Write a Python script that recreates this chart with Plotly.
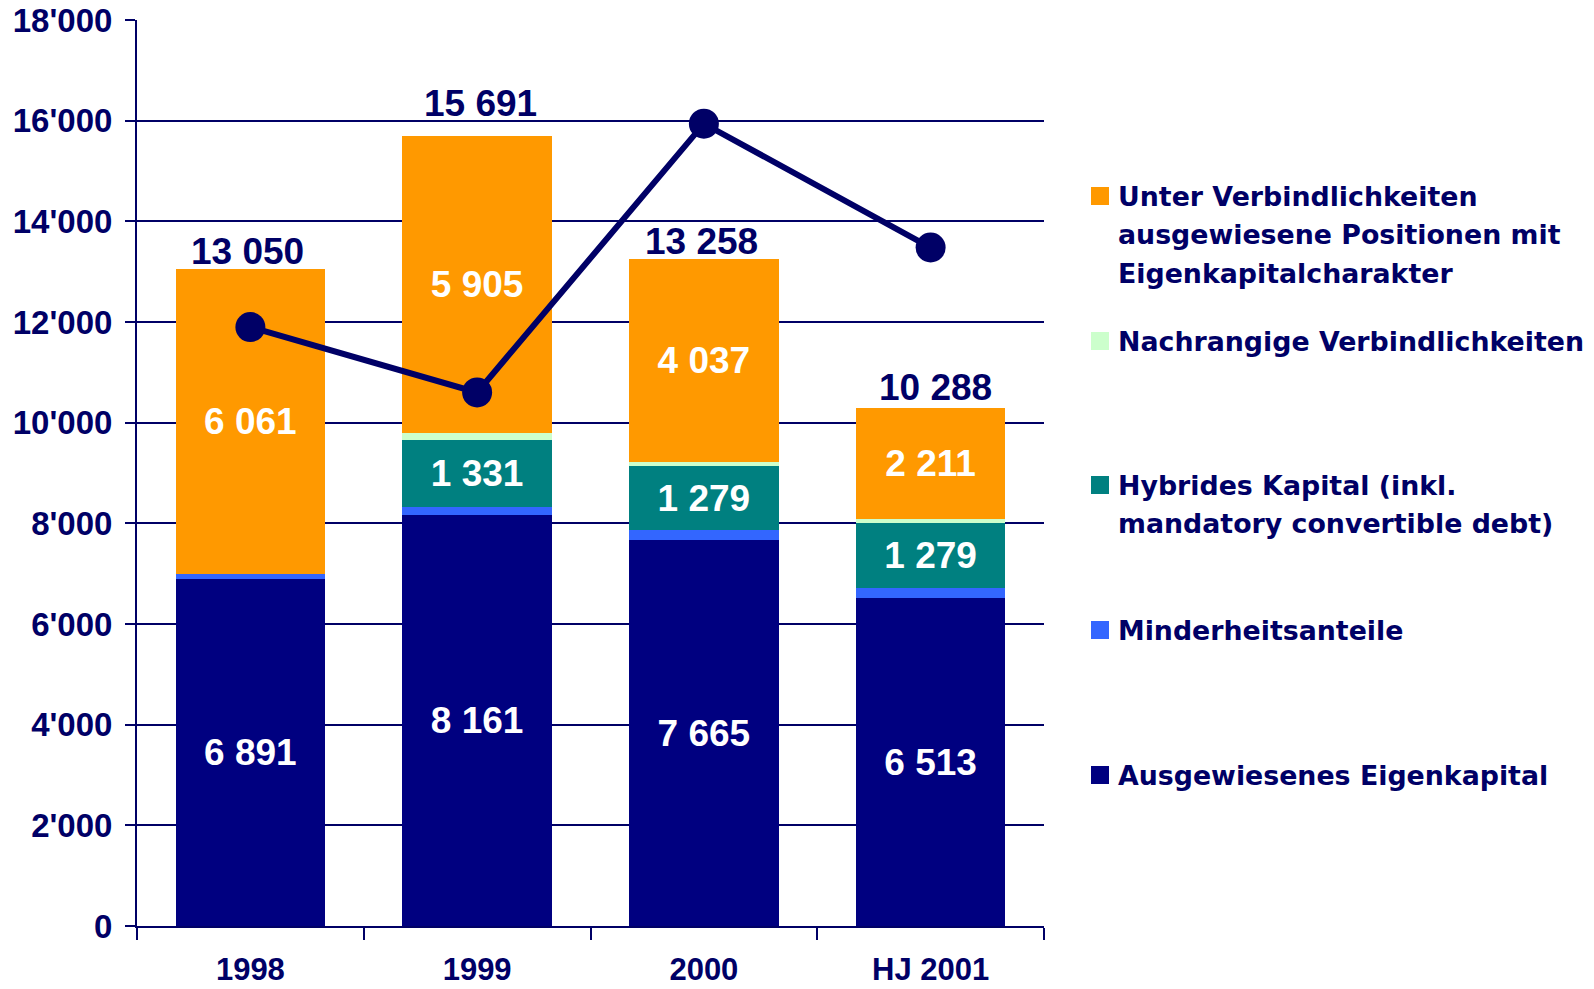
import plotly.graph_objects as go

categories = ["1998", "1999", "2000", "HJ 2001"]
ausgewiesen = [6891, 8161, 7665, 6513]
minderheit = [98, 170, 195, 205]
hybrid = [0, 1331, 1279, 1279]
nachrangig = [0, 124, 82, 80]
unter_verb = [6061, 5905, 4037, 2211]
line_values = [11900, 10600, 15940, 13480]
y_ticks = [0, 2000, 4000, 6000, 8000, 10000, 12000, 14000, 16000, 18000]

NAVY_TXT = "#000066"
FONT = "Liberation Sans, Arial, sans-serif"

def fmt(v):
    return f"{v:,}".replace(",", " ")

series = [
    ("Ausgewiesenes Eigenkapital", ausgewiesen, "#000080", True),
    ("Minderheitsanteile", minderheit, "#3366FF", False),
    ("Hybrides Kapital (inkl. mandatory convertible debt)", hybrid, "#008080", True),
    ("Nachrangige Verbindlichkeiten", nachrangig, "#CCFFCC", False),
    ("Unter Verbindlichkeiten ausgewiesene Positionen mit Eigenkapitalcharakter", unter_verb, "#FF9900", True),
]

fig = go.Figure()
for name, vals, col, lab in series:
    fig.add_trace(go.Bar(
        x=categories, y=vals, name=name, marker=dict(color=col, line=dict(width=0)),
        text=[fmt(v) if (lab and v > 0) else "" for v in vals],
        textposition="inside", insidetextanchor="middle", textangle=0,
        constraintext="none",
        textfont=dict(family=FONT, size=37, color="white", weight="bold"),
        showlegend=False, hoverinfo="skip",
    ))

fig.add_trace(go.Scatter(
    x=categories, y=line_values, mode="lines+markers",
    line=dict(color=NAVY_TXT, width=6),
    marker=dict(color=NAVY_TXT, size=30),
    showlegend=False, hoverinfo="skip",
))

# legend drawn manually (pixel layout -> paper coords)
L, R, T, B = 137, 550, 20, 63
PW, PH = 1594 - L - R, 989 - T - B

def px(x):
    return (x - L) / PW

def py(y):
    return (989 - B - y) / PH

shapes = []
annotations = []

# totals above the stacks (x given as category index on the category axis)
totals = [sum(s[1][i] for s in series) for i in range(len(categories))]
total_yshift = [18, 33, 17, 21]
total_xshift = [-3, 3, -2, 5]
for i, (t, ys, xs) in enumerate(zip(totals, total_yshift, total_xshift)):
    annotations.append(dict(
        x=i, y=t, xref="x", yref="y", text=fmt(t), showarrow=False,
        xanchor="center", yanchor="middle", yshift=ys, xshift=xs,
        font=dict(family=FONT, size=37, color=NAVY_TXT, weight="bold"),
    ))

legend_items = [
    (["Unter Verbindlichkeiten", "ausgewiesene Positionen mit", "Eigenkapitalcharakter"], "#FF9900", 196),
    (["Nachrangige Verbindlichkeiten"], "#CCFFCC", 341),
    (["Hybrides Kapital (inkl.", "mandatory convertible debt)"], "#008080", 485),
    (["Minderheitsanteile"], "#3366FF", 630),
    (["Ausgewiesenes Eigenkapital"], "#000080", 775),
]
for lines, col, yc in legend_items:
    shapes.append(dict(type="rect", xref="paper", yref="paper",
                       x0=px(1091), x1=px(1109), y0=py(yc + 9), y1=py(yc - 9),
                       fillcolor=col, line=dict(width=0)))
    for i, t in enumerate(lines):
        annotations.append(dict(
            xref="paper", yref="paper", x=px(1116), y=py(yc + i * 38.5),
            xanchor="left", yanchor="middle", showarrow=False, text=t,
            font=dict(family="DejaVu Sans, sans-serif", size=26.8, color=NAVY_TXT, weight="bold"),
        ))

fig.update_layout(
    width=1594, height=989,
    margin=dict(l=L, r=R, t=T, b=B, autoexpand=False),
    barmode="stack", bargap=0.34,
    plot_bgcolor="white", paper_bgcolor="white",
    separators=".'",
    shapes=shapes, annotations=annotations,
    xaxis=dict(
        type="category", categoryorder="array", categoryarray=categories,
        range=[-0.5, len(categories) - 0.5],
        tickson="boundaries", ticks="outside", ticklen=12,
        tickwidth=2, tickcolor=NAVY_TXT, showline=True, linecolor=NAVY_TXT, linewidth=2,
        showgrid=False, automargin=False, ticklabelstandoff=15,
        tickfont=dict(family="Liberation Sans Narrow, Liberation Sans, Arial Narrow, sans-serif",
                      size=31, color=NAVY_TXT, weight="bold"),
    ),
    yaxis=dict(
        range=[0, 18000], tickvals=y_ticks, tickformat=",", ticks="outside", ticklen=10,
        tickwidth=2, tickcolor=NAVY_TXT, showline=True, linecolor=NAVY_TXT, linewidth=2,
        showgrid=True, gridcolor=NAVY_TXT, gridwidth=2, zeroline=False, automargin=False,
        ticklabelstandoff=6,
        tickfont=dict(family=FONT, size=33, color=NAVY_TXT, weight="bold"),
    ),
)

fig.write_html("out.html", config={"displayModeBar": False},
               post_script="document.body.style.margin='0px';document.body.style.overflow='hidden';")
